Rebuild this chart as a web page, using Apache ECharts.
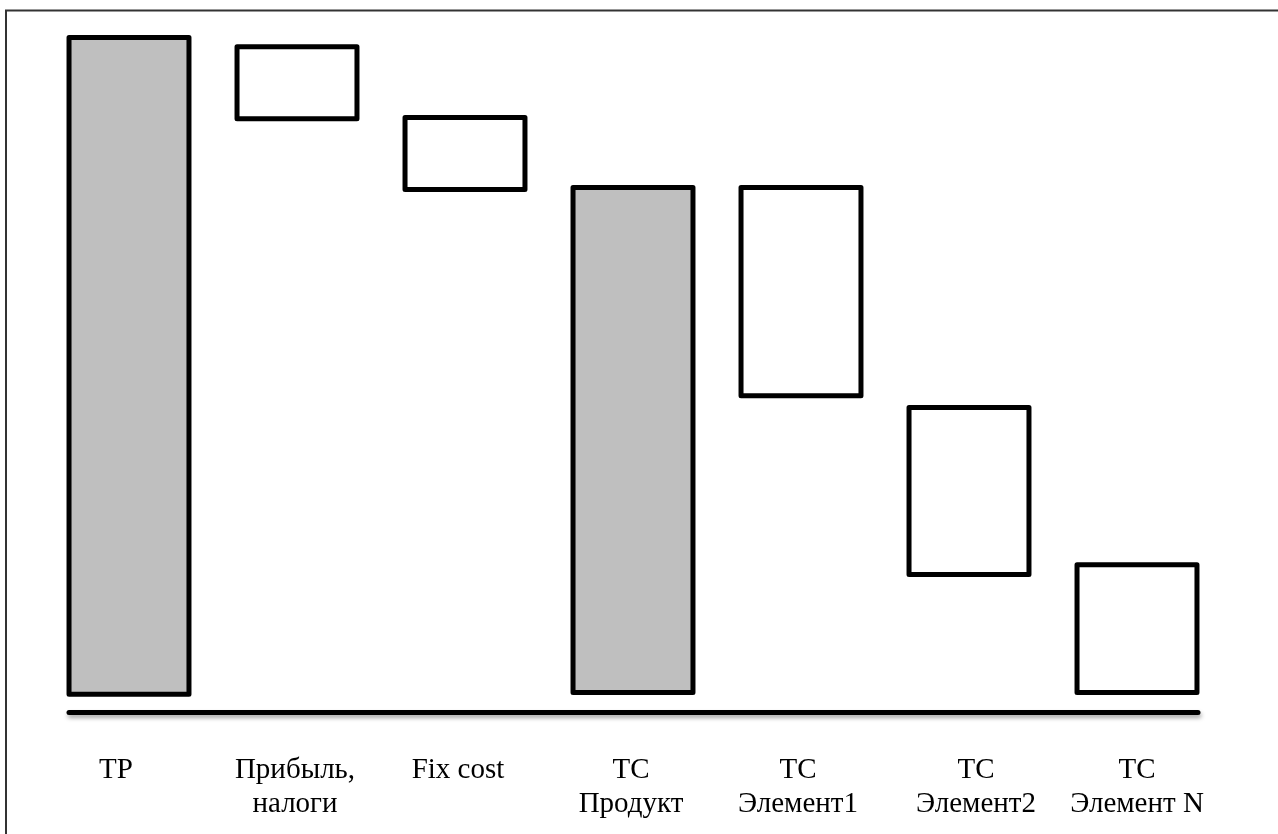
<!DOCTYPE html>
<html>
<head>
<meta charset="utf-8">
<script src="https://cdn.jsdelivr.net/npm/echarts@6/dist/echarts.min.js"></script>
<style>
  html, body { margin: 0; padding: 0; background: #ffffff; }
  #chart { width: 1278px; height: 834px; }
</style>
</head>
<body>
<div id="chart"></div>
<script>
// ---- data ----
var categories = ['TP', 'Прибыль,\nналоги', 'Fix cost', 'TC\nПродукт', 'TC\nЭлемент1', 'TC\nЭлемент2', 'TC\nЭлемент N'];
var lows  = [-0.26, 87.6, 76.8, 0, 45.3, 18.0, 0];
var highs = [100, 98.6, 87.8, 77.1, 77.1, 43.5, 19.5];
var kinds = ['total', 'step', 'step', 'total', 'step', 'step', 'step'];

// ---- label styling (horizontal nudges of the text boxes, px) ----
var labelShift = [-13, -2, -7, -2, -3, 7, 0];

// ---- build ----
var seriesData = categories.map(function (c, i) { return [i, lows[i], highs[i]]; });

var rich = {};
labelShift.forEach(function (s, i) {
  rich['s' + i] = {
    fontFamily: 'Liberation Serif',
    fontSize: 29,
    lineHeight: 34,
    color: '#000000',
    padding: s < 0 ? [0, -2 * s, 0, 0] : [0, 0, 0, 2 * s]
  };
});

var chart = echarts.init(document.getElementById('chart'), null, { renderer: 'canvas' });

var option = {
  backgroundColor: '#ffffff',
  animation: false,
  graphic: [{
    type: 'rect',
    silent: true,
    shape: { x: 6, y: 10.5, width: 1400, height: 1000 },
    style: { fill: 'none', stroke: '#333333', lineWidth: 2 }
  }],
  grid: [
    { left: 45, right: 57, top: 37.5, bottom: 108.75 },
    { left: 69, right: 80, top: 600, bottom: 121.5 }
  ],
  xAxis: [{
    type: 'category',
    gridIndex: 0,
    data: categories,
    axisLine: { show: false },
    axisTick: { show: false },
    splitLine: { show: false },
    axisLabel: {
      interval: 0,
      margin: 28,
      color: '#000000',
      fontFamily: 'Liberation Serif',
      fontSize: 29,
      lineHeight: 34,
      rich: rich,
      formatter: function (value, index) {
        var tag = 's' + index;
        return value.split('\n').map(function (line) {
          return '{' + tag + '|' + line + '}';
        }).join('\n');
      }
    }
  }, {
    type: 'value',
    gridIndex: 1,
    min: 0, max: 1,
    axisLine: {
      show: true,
      onZero: false,
      lineStyle: {
        color: '#000000', width: 5,
        shadowColor: 'rgba(0,0,0,0.35)', shadowBlur: 4, shadowOffsetX: 1, shadowOffsetY: 3
      }
    },
    axisTick: { show: false },
    axisLabel: { show: false },
    splitLine: { show: false }
  }],
  yAxis: [{
    type: 'value', gridIndex: 0, min: -5, max: 100,
    show: false, splitLine: { show: false }
  }, {
    type: 'value', gridIndex: 1, min: 0, max: 1,
    show: false, splitLine: { show: false }
  }],
  series: [{
    type: 'custom',
    xAxisIndex: 0,
    yAxisIndex: 0,
    encode: { x: 0, y: [1, 2] },
    data: seriesData,
    renderItem: function (params, api) {
      var i = api.value(0);
      var p0 = api.coord([i, api.value(1)]);
      var p1 = api.coord([i, api.value(2)]);
      var band = api.size([1, 0])[0];
      var w = band * 0.714;
      return {
        type: 'rect',
        shape: { x: p0[0] - w / 2, y: p1[1], width: w, height: p0[1] - p1[1] },
        style: {
          fill: kinds[i] === 'total' ? '#bfbfbf' : '#ffffff',
          stroke: '#000000',
          lineWidth: 5,
          lineJoin: 'round'
        }
      };
    }
  }]
};
chart.setOption(option);
</script>
</body>
</html>
